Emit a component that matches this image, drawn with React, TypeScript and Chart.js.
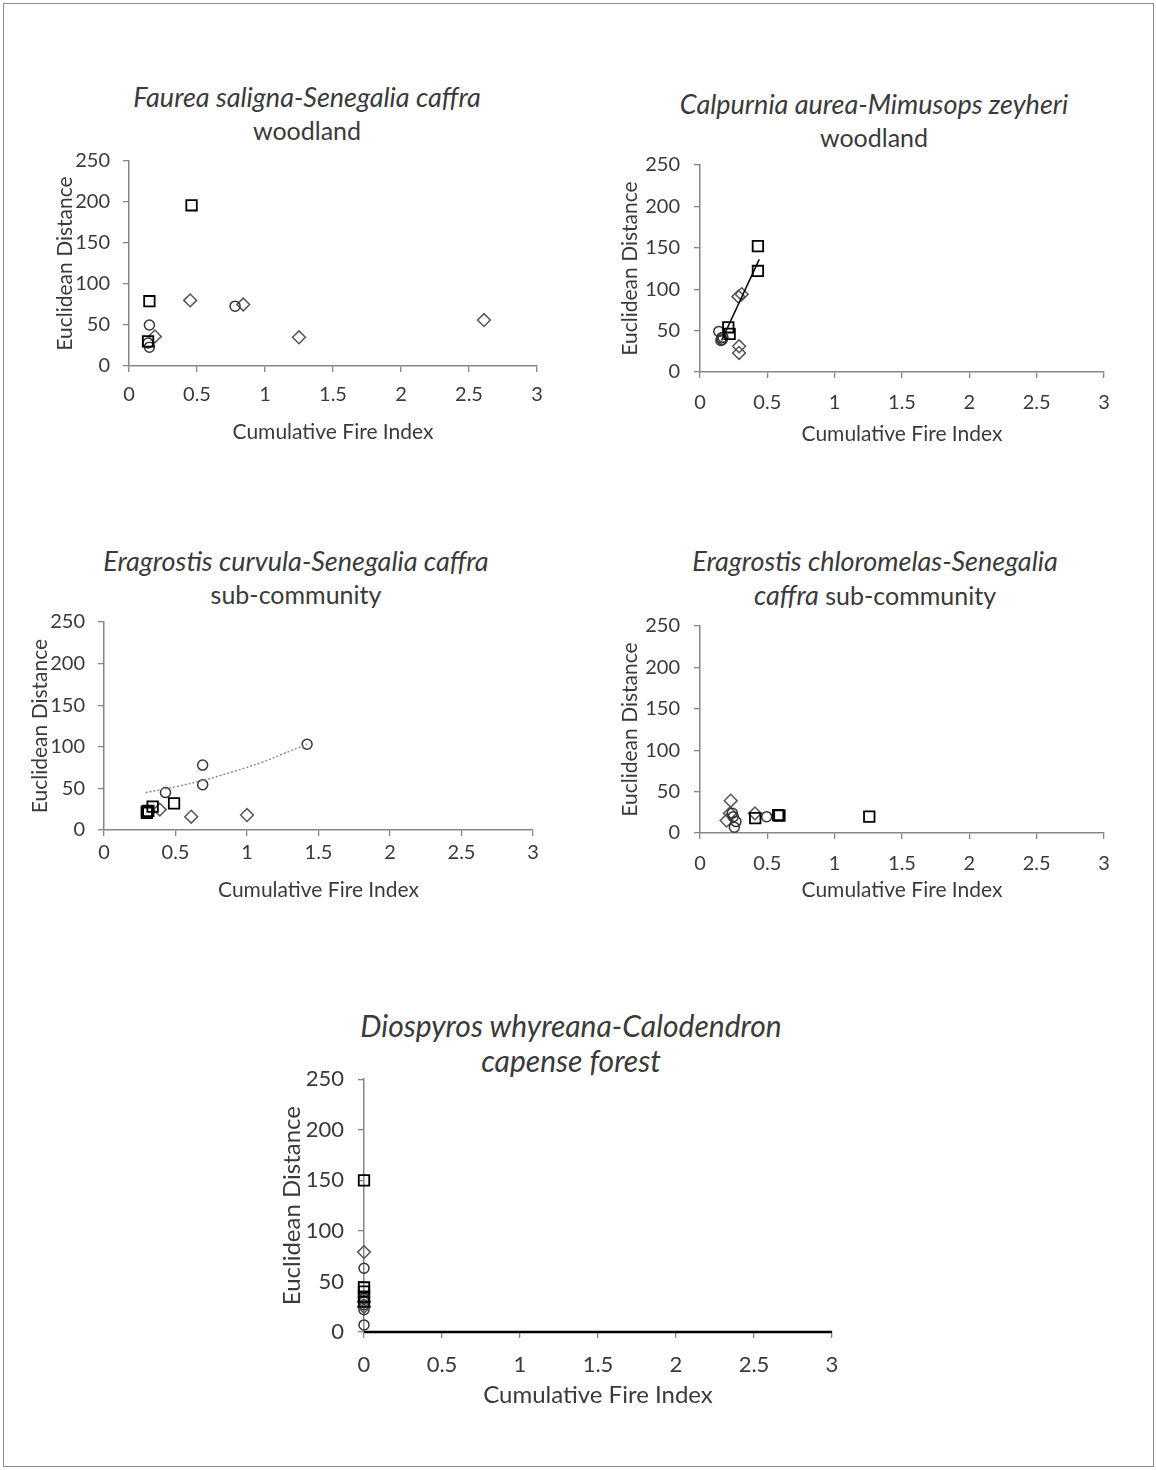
import React, { useEffect, useRef } from "react";
import { Chart, registerables } from "chart.js";
Chart.register(...registerables);

type Pt = [number, number];

const xTickValues = [0, 0.5, 1, 1.5, 2, 2.5, 3];
const yTickValues = [0, 50, 100, 150, 200, 250];
const xAxisTitle = "Cumulative Fire Index";
const yAxisTitle = "Euclidean Distance";

// Faurea saligna-Senegalia caffra woodland
const faureaSquares: Pt[] = [[0.46, 196], [0.15, 79], [0.14, 30]];
const faureaCircles: Pt[] = [[0.15, 50], [0.14, 28], [0.15, 23], [0.78, 73]];
const faureaDiamonds: Pt[] = [[0.45, 80], [0.84, 75], [1.25, 35], [2.61, 56], [0.19, 36]];

// Calpurnia aurea-Mimusops zeyheri woodland
const calpurniaSquares: Pt[] = [[0.43, 152], [0.43, 122], [0.21, 54], [0.22, 46]];
const calpurniaCircles: Pt[] = [[0.14, 49], [0.16, 41], [0.165, 39], [0.17, 42], [0.155, 38]];
const calpurniaDiamonds: Pt[] = [[0.285, 91], [0.31, 94], [0.29, 31], [0.29, 23]];
const calpurniaTrend: Pt[] = [[0.16, 38], [0.44, 136]];

// Eragrostis curvula-Senegalia caffra sub-community
const curvulaSquares: Pt[] = [[0.49, 32], [0.34, 28], [0.31, 23], [0.3, 20.5], [0.3, 22]];
const curvulaCircles: Pt[] = [[1.42, 103], [0.69, 78], [0.69, 54.5], [0.43, 45]];
const curvulaDiamonds: Pt[] = [[0.39, 24.5], [0.61, 16], [1.0, 18]];
const curvulaTrend: Pt[] = [[0.29, 45], [0.5, 52], [0.7, 60], [0.9, 70], [1.1, 81], [1.23, 90], [1.42, 103]];

// Eragrostis chloromelas-Senegalia caffra sub-community
const chloromelasSquares: Pt[] = [[0.41, 18], [0.58, 21.7], [0.59, 21], [1.257, 19.7]];
const chloromelasCircles: Pt[] = [[0.247, 19.7], [0.267, 13.8], [0.255, 7], [0.495, 19.7], [0.24, 24]];
const chloromelasDiamonds: Pt[] = [[0.228, 39], [0.198, 15], [0.223, 23.7], [0.408, 23.7]];

// Diospyros whyreana-Calodendron capense forest
const diospyrosSquares: Pt[] = [[0, 150], [0, 44], [0, 40], [0, 35], [0, 30]];
const diospyrosCircles: Pt[] = [[0, 63], [0, 33], [0, 27], [0, 22], [0, 7]];
const diospyrosDiamonds: Pt[] = [[0, 79], [0, 30], [0, 25]];
const diospyrosBaseline: Pt[] = [[0, 0], [3, 0]];

const FONT = "Lato, 'Open Sans', sans-serif";
const TEXT = "#3a3a3a";
const AXIS = "#868686";

type Rect = { left: number; top: number; right: number; bottom: number };
type Panel = {
  canvas: Rect;
  plot: Rect;
  tickSize: number;
  axisTitleSize: number;
  xTickPad: number;
  yTickPad: number;
  xTitleY: number;
  yTitleX: number;
  datasets: any[];
};

const toXY = (pts: Pt[]) => pts.map(([x, y]) => ({ x, y }));

const squares = (pts: Pt[]) => ({
  data: toXY(pts), pointStyle: "rect", pointRadius: 7.4, borderColor: "#000", borderWidth: 1.8,
  backgroundColor: "rgba(0,0,0,0)", showLine: false, clip: false,
});
const circles = (pts: Pt[]) => ({
  data: toXY(pts), pointStyle: "circle", pointRadius: 5, borderColor: "#363636", borderWidth: 1.5,
  backgroundColor: "rgba(0,0,0,0)", showLine: false, clip: false,
});
const diamonds = (pts: Pt[]) => ({
  data: toXY(pts), pointStyle: "rectRot", pointRadius: 6.4, borderColor: "#555", borderWidth: 1.5,
  backgroundColor: "rgba(0,0,0,0)", showLine: false, clip: false,
});
const line = (pts: Pt[], color: string, width: number, dash: number[], tension: number) => ({
  data: toXY(pts), showLine: true, pointRadius: 0, borderColor: color, borderWidth: width,
  borderDash: dash, tension, backgroundColor: "rgba(0,0,0,0)", clip: false,
});

const panels: Panel[] = [
  {
    canvas: { left: 0, top: 136, right: 575, bottom: 455 },
    plot: { left: 129, top: 158, right: 537, bottom: 366 },
    tickSize: 20, axisTitleSize: 21, xTickPad: 11, yTickPad: 13, xTitleY: 432, yTitleX: 65,
    datasets: [squares(faureaSquares), circles(faureaCircles), diamonds(faureaDiamonds)],
  },
  {
    canvas: { left: 580, top: 139, right: 1140, bottom: 460 },
    plot: { left: 700, top: 161, right: 1104, bottom: 372 },
    tickSize: 20, axisTitleSize: 21, xTickPad: 13, yTickPad: 14, xTitleY: 434, yTitleX: 630,
    datasets: [line(calpurniaTrend, "#000", 1.5, [], 0), squares(calpurniaSquares), circles(calpurniaCircles), diamonds(calpurniaDiamonds)],
  },
  {
    canvas: { left: 0, top: 597, right: 575, bottom: 915 },
    plot: { left: 104, top: 619, right: 533, bottom: 830 },
    tickSize: 20, axisTitleSize: 21, xTickPad: 5, yTickPad: 13, xTitleY: 890, yTitleX: 40,
    datasets: [line(curvulaTrend, "#8c8c8c", 1.5, [2, 2], 0.4), squares(curvulaSquares), circles(curvulaCircles), diamonds(curvulaDiamonds)],
  },
  {
    canvas: { left: 580, top: 600, right: 1140, bottom: 915 },
    plot: { left: 700, top: 622, right: 1104, bottom: 833 },
    tickSize: 20, axisTitleSize: 21, xTickPad: 13, yTickPad: 14, xTitleY: 890, yTitleX: 630,
    datasets: [squares(chloromelasSquares), circles(chloromelasCircles), diamonds(chloromelasDiamonds)],
  },
  {
    canvas: { left: 200, top: 1052, right: 900, bottom: 1425 },
    plot: { left: 364, top: 1079, right: 832, bottom: 1332 },
    tickSize: 22, axisTitleSize: 24, xTickPad: 14, yTickPad: 14, xTitleY: 1395, yTitleX: 292,
    datasets: [squares(diospyrosSquares), diamonds(diospyrosDiamonds), circles(diospyrosCircles), line(diospyrosBaseline, "#000", 2.5, [], 0)],
  },
];

type TitlePart = { text: string; italic: boolean; size: number };
type TitleLine = { parts: TitlePart[]; y: number };
type TitleSpec = { x: number; lines: TitleLine[] };

const titles: TitleSpec[] = [
  { x: 307, lines: [
    { y: 96, parts: [{ text: "Faurea saligna-Senegalia caffra", italic: true, size: 27 }] },
    { y: 130, parts: [{ text: "woodland", italic: false, size: 25 }] },
  ] },
  { x: 874, lines: [
    { y: 103, parts: [{ text: "Calpurnia aurea-Mimusops zeyheri", italic: true, size: 27 }] },
    { y: 137, parts: [{ text: "woodland", italic: false, size: 25 }] },
  ] },
  { x: 296, lines: [
    { y: 560, parts: [{ text: "Eragrostis curvula-Senegalia caffra", italic: true, size: 27 }] },
    { y: 594, parts: [{ text: "sub-community", italic: false, size: 25 }] },
  ] },
  { x: 875, lines: [
    { y: 560, parts: [{ text: "Eragrostis chloromelas-Senegalia", italic: true, size: 27 }] },
    { y: 594, parts: [{ text: "caffra", italic: true, size: 27 }, { text: " sub-community", italic: false, size: 25 }] },
  ] },
  { x: 571, lines: [
    { y: 1025, parts: [{ text: "Diospyros whyreana-Calodendron", italic: true, size: 30 }] },
    { y: 1060, parts: [{ text: "capense forest", italic: true, size: 30 }] },
  ] },
];

function PanelChart({ p }: { p: Panel }) {
  const ref = useRef<HTMLCanvasElement | null>(null);
  const w = p.canvas.right - p.canvas.left;
  const h = p.canvas.bottom - p.canvas.top;
  useEffect(() => {
    if (!ref.current) return;
    const lh = 1.2;
    const yW = p.plot.left - p.canvas.left;
    const xH = p.canvas.bottom - p.plot.bottom;
    const chart = new Chart(ref.current, {
      type: "scatter",
      data: { datasets: p.datasets },
      options: {
        animation: false,
        responsive: false,
        maintainAspectRatio: false,
        devicePixelRatio: 1,
        layout: { padding: { left: 0, top: p.plot.top - p.canvas.top, right: p.canvas.right - p.plot.right, bottom: 0 } },
        plugins: { legend: { display: false }, tooltip: { enabled: false }, title: { display: false } },
        scales: {
          x: {
            type: "linear", min: 0, max: 3, position: "bottom",
            afterFit: (s: any) => { s.height = xH; },
            afterBuildTicks: (s: any) => { s.ticks = xTickValues.map((v) => ({ value: v })); },
            grid: { drawOnChartArea: false, drawTicks: true, tickLength: 6, color: AXIS, lineWidth: 1.3 },
            border: { color: AXIS, width: 1.5 },
            ticks: { color: TEXT, font: { family: FONT, size: p.tickSize, lineHeight: lh }, padding: p.xTickPad, maxRotation: 0, autoSkip: false, callback: (v: any) => String(v) },
            title: {
              display: true, text: xAxisTitle, color: TEXT,
              font: { family: FONT, size: p.axisTitleSize, lineHeight: lh },
              padding: { top: 0, bottom: p.canvas.bottom - p.xTitleY - (lh * p.axisTitleSize) / 2 },
            },
          },
          y: {
            type: "linear", min: 0, max: 250, position: "left",
            afterFit: (s: any) => { s.width = yW; },
            afterBuildTicks: (s: any) => { s.ticks = yTickValues.map((v) => ({ value: v })); },
            grid: { drawOnChartArea: false, drawTicks: true, tickLength: 6, color: AXIS, lineWidth: 1.3 },
            border: { color: AXIS, width: 1.5 },
            ticks: { color: TEXT, font: { family: FONT, size: p.tickSize, lineHeight: lh }, padding: p.yTickPad, autoSkip: false, callback: (v: any) => String(v) },
            title: {
              display: true, text: yAxisTitle, color: TEXT,
              font: { family: FONT, size: p.axisTitleSize, lineHeight: lh },
              padding: { top: p.yTitleX - p.canvas.left - (lh * p.axisTitleSize) / 2, bottom: 0 },
            },
          },
        },
      } as any,
    });
    return () => chart.destroy();
  }, []);
  return (
    <canvas
      ref={ref}
      width={w}
      height={h}
      style={{ position: "absolute", left: p.canvas.left, top: p.canvas.top, width: w, height: h }}
    />
  );
}

export default function App() {
  useEffect(() => {
    document.body.style.margin = "0";
  }, []);
  return (
    <div style={{ position: "relative", width: 1156, height: 1470, background: "#fff", overflow: "hidden", fontFamily: FONT }}>
      <div style={{ position: "absolute", left: 3, top: 3, width: 1149, height: 1462, border: "1px solid #8c8c8c" }} />
      {titles.map((t, i) =>
        t.lines.map((ln, j) => (
          <div
            key={`${i}-${j}`}
            style={{
              position: "absolute", left: t.x, top: ln.y, transform: "translate(-50%, -50%)",
              whiteSpace: "nowrap", lineHeight: 1, color: TEXT, fontFamily: FONT,
            }}
          >
            {ln.parts.map((pt, k) => (
              <span key={k} style={{ fontStyle: pt.italic ? "italic" : "normal", fontSize: pt.size }}>{pt.text}</span>
            ))}
          </div>
        ))
      )}
      {panels.map((p, i) => <PanelChart key={i} p={p} />)}
    </div>
  );
}
